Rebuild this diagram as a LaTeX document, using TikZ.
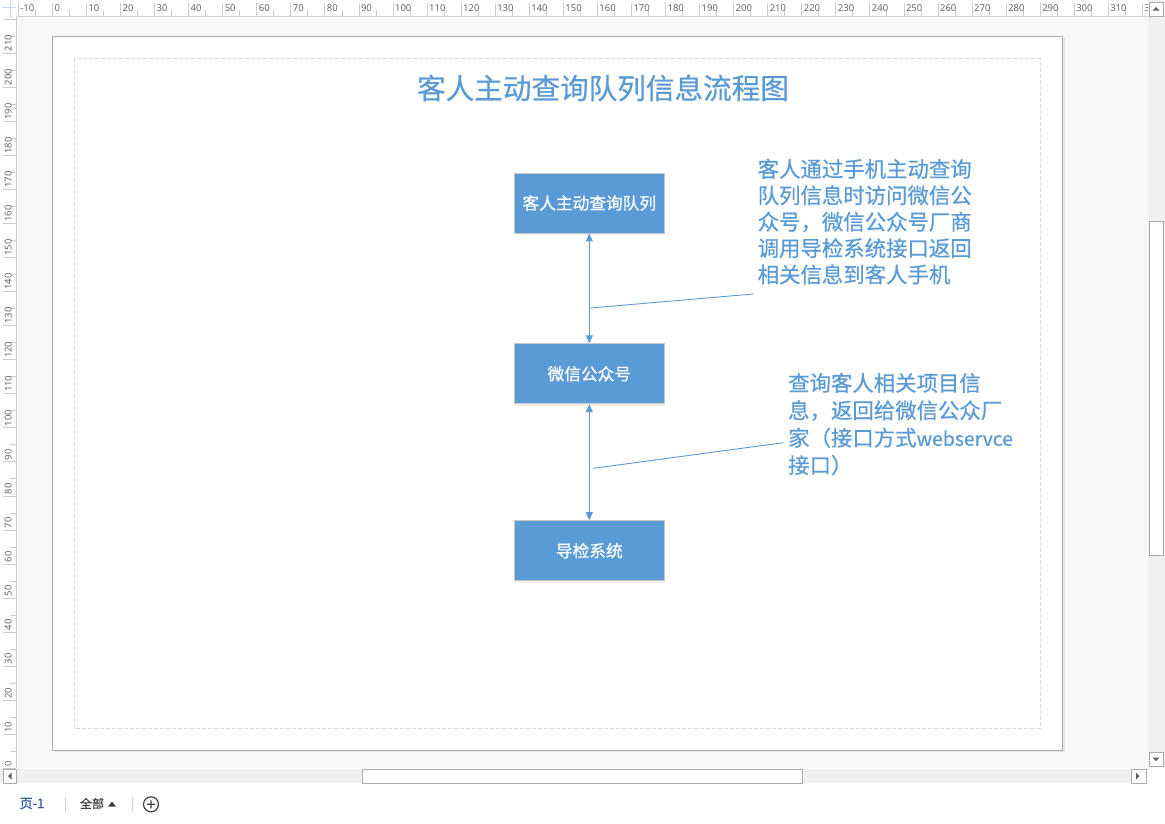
\documentclass[tikz,border=0pt]{standalone}
\usepackage{xcolor}
\usepackage{fontspec}
\setmainfont{Noto Sans CJK SC}[FakeBold=0.6]
\newfontfamily\uifont{Noto Sans}
\usepackage{tikz}
\usetikzlibrary{arrows.meta, positioning, shadows}
\definecolor{azul}{HTML}{5B9BD5}
\definecolor{lienzo}{HTML}{F8F8F8}
\definecolor{pista}{HTML}{F0F0F0}
\definecolor{pagina}{HTML}{A9AEB6}
\definecolor{pestana}{HTML}{2B579A}

\begin{document}
\begin{tikzpicture}[x=1pt, y=-1pt, >={Triangle[length=8pt, width=7pt]},
  caja/.style={draw=black!22, line width=0.8pt, fill=azul, text=white,
    minimum width=150pt, minimum height=60pt, inner sep=0pt,
    font=\fontsize{16.7}{20}\selectfont,
    drop shadow={opacity=0.12, shadow xshift=1pt, shadow yshift=-2pt}},
  flecha/.style={<->, draw=azul, line width=1pt},
  guia/.style={draw=azul, line width=0.9pt},
  nota/.style={text=azul, align=left, inner sep=0pt, anchor=north west,
    font=\fontsize{21.4}{26.4}\selectfont},
  regla/.style={draw=black!20, line width=0.6pt},
  num/.style={text=black!60, inner sep=0pt, font=\uifont\fontsize{9.5}{10}\selectfont},
  boton/.style={draw=black!33, fill=white, line width=0.8pt},
  punta/.style={fill=black!60}]
% Fondo y pagina
\useasboundingbox (0,0) rectangle (1165,823);
\fill[white] (0,0) rectangle (1165,823);
\fill[lienzo] (16,16) rectangle (1148,768);
\fill[black!10] (53.5,37.5) rectangle (1064.5,752);
\filldraw[fill=white, draw=pagina, line width=1pt] (52.3,36) rectangle (1062.3,750);
\draw[black!15, dash pattern=on 4pt off 2pt, line width=0.8pt] (74,58.3) rectangle (1040,728);
% Regla superior
\fill[white] (16,0) rectangle (1148,16);
\begin{scope}
\clip (16,0) rectangle (1147,16);
\foreach \v [evaluate=\v as \px using 52.3+3.406*\v] in {-10,0,...,320} {
  \draw[regla] (\px,3) -- (\px,16);
  \draw[regla] (\px+17.03,10) -- (\px+17.03,16);
  \node[num, anchor=west] at (\px+2,8) {\v};
}
\end{scope}
% Regla lateral
\fill[white] (0,16) rectangle (16,768);
\begin{scope}
\clip (0,16) rectangle (16,768);
\foreach \v [evaluate=\v as \py using 768.3-3.406*\v] in {0,10,...,220} {
  \draw[regla] (3,\py) -- (16,\py);
  \draw[regla] (10,\py-17.03) -- (16,\py-17.03);
  \node[num, rotate=90, anchor=west] at (8.3,\py-1.5) {\v};
}
\end{scope}
\draw[black!18, line width=0.8pt] (16,16) -- (1148,16) (16,16) -- (16,768);
\draw[azul!40, line width=0.7pt] (2,7.5) -- (16,7.5) (10,0) -- (10,15);
% Barras de desplazamiento
\fill[pista] (1148,0) rectangle (1165,766);
\fill[pista] (0,769) rectangle (1147,783);
\draw[boton] (1149,221) rectangle (1163,555);
\draw[boton] (362,769) rectangle (802,783);
\draw[boton] (1149,2) rectangle (1163,16);
\fill[punta] (1152.5,10.5) -- (1159.5,10.5) -- (1156,7) -- cycle;
\draw[boton] (1149,752) rectangle (1163,766);
\fill[punta] (1152.5,757.5) -- (1159.5,757.5) -- (1156,761) -- cycle;
\draw[boton] (3,769) rectangle (16.7,783);
\fill[punta] (11.5,772.5) -- (11.5,779.5) -- (8,776) -- cycle;
\draw[boton] (1131,769) rectangle (1146,783);
\fill[punta] (1136,772.5) -- (1136,779.5) -- (1139.5,776) -- cycle;
% Pestanas
\node[text=pestana, inner sep=0pt, font=\fontsize{13}{14}\selectfont] (p0) at (32,803.5) {页-1};
\draw[black!18, line width=0.8pt] (65.7,796.7) -- (65.7,811.7) (132.7,796.7) -- (132.7,811.7);
\node[text=black!75, inner sep=0pt, font=\fontsize{12}{13}\selectfont] (p1) at (92,803.5) {全部};
\fill[black!75] (108,806.5) -- (116,806.5) -- (112,801.5) -- cycle;
\draw[black!75, line width=1.2pt] (151,804.3) circle (7.5) (147,804.3) -- (155,804.3) (151,800.3) -- (151,808.3);
% Titulo
\node[text=azul, inner sep=0pt, font=\fontsize{28.6}{32}\selectfont] (t0) at (603,88) {客人主动查询队列信息流程图};
% Cajas
\node[caja] (n0) at (589.3,203) {客人主动查询队列};
\node[caja, below=110pt of n0] (n1) {微信公众号};
\node[caja, below=116pt of n1] (n2) {导检系统};
% Flechas
\draw[flecha] (n0) -- (n1);
\draw[flecha] (n1) -- (n2);
% Notas
\node[nota] (d0) at (757.5,158.7) {客人通过手机主动查询\\队列信息时访问微信公\\众号，微信公众号厂商\\调用导检系统接口返回\\相关信息到客人手机};
\node[nota, font=\fontsize{21.4}{27.4}\selectfont] (d1) at (788,372.7) {查询客人相关项目信\\息，返回给微信公众厂\\家（接口方式\fontsize{19.4}{27.4}\selectfont webservce\\\fontsize{21.4}{27.4}\selectfont 接口）};
\coordinate (c0) at (590.5,308);
\coordinate (c1) at (753.3,294);
\coordinate (c2) at (593.3,468.3);
\coordinate (c3) at (783.3,442.7);
\draw[guia] (c0) -- (c1);
\draw[guia] (c2) -- (c3);
\end{tikzpicture}
\end{document}
